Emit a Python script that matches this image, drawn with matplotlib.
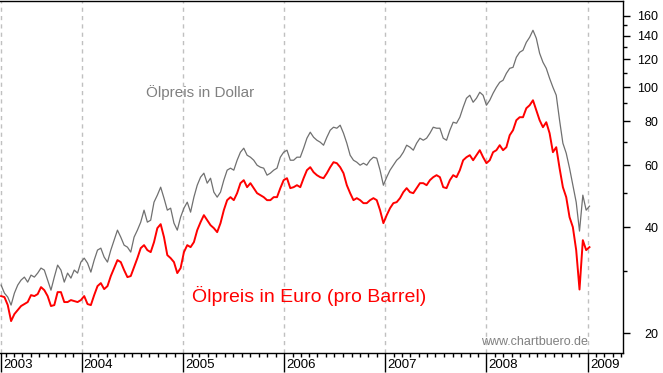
import matplotlib
matplotlib.use('Agg')
import matplotlib.pyplot as plt
import matplotlib.dates as mdates
import matplotlib.ticker as mticker
from matplotlib.transforms import ScaledTranslation
import pandas as pd

plt.rcParams['font.family'] = ['Liberation Sans', 'DejaVu Sans']

# ---------------- data ----------------
start_date = '2003-03-16'
step = '12D'

usd = [
    27.38, 25.98, 25.31, 24.02, 25.98, 27.38, 28.29, 28.85, 27.92, 29.23,
    28.85, 29.62, 30.61, 30.21, 28.29, 26.49, 28.85, 31.21, 30.21, 27.92,
    29.62, 28.66, 30.21, 29.62, 31.83, 32.67, 31.62, 29.81, 32.25, 34.43,
    34.88, 32.89, 31.83, 34.43, 36.75, 39.24, 37.48, 35.57, 35.11, 33.98,
    37.48, 39.24, 41.35, 44.73, 41.35, 41.89, 47.14, 49.35, 52.00, 48.39,
    44.73, 45.32, 41.08, 39.24, 42.73, 45.32, 47.14, 44.15, 48.71, 52.68,
    55.52, 56.99, 53.38, 55.15, 50.33, 48.71,
    50.33, 54.44, 58.12, 58.89, 58.12, 62.04, 65.39, 67.12, 64.11, 63.28,
    62.04, 60.05, 59.27, 58.89, 56.25, 56.99, 58.12, 58.89, 63.28, 65.39,
    66.25, 62.04, 62.04, 63.28, 63.28, 67.12, 71.66, 74.53, 72.12, 70.72,
    69.81, 68.45, 72.12, 75.51, 77.01, 76.50, 78.02, 74.04, 69.35, 64.11,
    62.04, 61.24, 60.05, 60.84, 60.05, 62.04, 63.28, 62.87, 58.12, 52.68,
    55.52, 58.12, 60.05, 62.04, 63.28, 65.39, 68.45, 67.56, 66.25, 69.35,
    71.66, 70.72, 71.66, 74.04, 77.01, 76.50,
    76.50, 71.66, 70.72, 75.51, 79.57, 79.05, 82.22, 87.77, 93.10, 94.95,
    90.69, 93.10, 96.83, 94.95, 88.93, 91.88, 96.20, 100.05, 103.37, 104.73,
    109.60, 113.25, 113.98, 121.77, 125.82, 127.48, 134.28, 138.82, 145.32, 137.91,
    125.00, 117.87, 113.25, 106.07, 100.05, 94.95, 80.62, 69.35, 64.96, 58.89,
    52.68, 47.14, 39.00, 49.35, 44.73, 45.92,
]

eur = [
    25.48, 25.31, 24.02, 21.63, 22.65, 23.25, 23.87, 24.18, 24.50, 25.64,
    25.48, 25.81, 27.02, 26.49, 25.48, 23.87, 24.02, 26.15, 26.15, 24.50,
    24.50, 24.82, 24.66, 24.50, 24.82, 25.48, 24.18, 24.02, 25.64, 27.20,
    27.74, 26.67, 27.20, 29.05, 30.61, 32.25, 31.83, 30.21, 28.85, 29.05,
    30.80, 32.67, 34.88, 35.57, 34.43, 33.98, 36.28, 39.76, 40.81, 37.48,
    33.32, 32.67, 31.83, 29.62, 30.61, 33.98, 35.57, 35.11, 36.28, 39.24,
    41.35, 43.29, 41.89, 40.54, 39.76, 38.73,
    41.08, 44.73, 47.76, 48.71, 47.76, 50.00, 53.38, 54.44, 52.00, 53.38,
    51.67, 50.00, 49.35, 48.71, 47.76, 47.76, 48.71, 48.71, 51.67, 54.44,
    55.15, 51.67, 52.00, 52.68, 52.00, 55.15, 58.12, 59.27, 57.36, 56.25,
    55.52, 55.15, 56.99, 59.27, 61.24, 60.84, 59.27, 56.99, 52.68, 50.00,
    47.76, 48.39, 47.76, 46.83, 46.83, 47.76, 48.39, 47.76, 44.73, 41.08,
    43.29, 45.32, 46.83, 47.14, 48.39, 50.33, 51.67, 50.33, 50.00, 51.67,
    53.38, 53.38, 52.68, 54.44, 55.52, 56.25,
    55.52, 52.00, 51.67, 54.44, 56.25, 55.52, 58.12, 62.04, 63.28, 64.11,
    62.04, 64.11, 66.25, 63.28, 60.84, 62.04, 65.39, 66.25, 68.45, 66.25,
    67.56, 73.07, 75.51, 80.62, 82.22, 82.22, 87.20, 88.93, 91.88, 86.07,
    80.62, 77.01, 79.57, 74.04, 65.39, 67.56, 58.89, 52.00, 48.71, 42.73,
    40.02, 34.43, 26.60, 36.75, 34.43, 35.11,
]

y_major = [20, 40, 60, 80, 100, 120, 140, 160]
y_minor = [30, 50, 70, 90, 110, 130, 150]
year_labels = ['2003', '2004', '2005', '2006', '2007', '2008', '2009']
year_starts = ['2004-01-01', '2005-01-01', '2006-01-01', '2007-01-01',
               '2008-01-01', '2009-01-01']
x_range = ('2003-03-12', '2009-05-08')
y_range = (17.55, 176.6)

label_usd = 'Ölpreis in Dollar'
label_eur = 'Ölpreis in Euro (pro Barrel)'
watermark = 'www.chartbuero.de'

# ---------------- figure ----------------
dates = pd.date_range(start_date, periods=len(usd), freq=step)

W, H = 663, 373
fig = plt.figure(figsize=(W / 100, H / 100), dpi=100)
fig.patch.set_facecolor('white')
ax = fig.add_axes([0, 20 / H, 623 / W, 352.5 / H])

ax.plot(dates, usd, color='#707070', lw=0.9, zorder=3)
ax.plot(dates, eur, color='#ff0000', lw=1.4, zorder=4)

ax.set_yscale('log')
ax.set_ylim(*y_range)
ax.set_xlim(pd.Timestamp(x_range[0]), pd.Timestamp(x_range[1]))

# x ticks
xt = [dates[0]] + [pd.Timestamp(d) for d in year_starts]
xt_num = [mdates.date2num(t) for t in xt]
ax.xaxis.set_major_locator(mticker.FixedLocator(xt_num))
ax.xaxis.set_major_formatter(mticker.NullFormatter())
ax.xaxis.set_minor_locator(mdates.MonthLocator())
ax.tick_params(axis='x', which='major', direction='out', length=13.7,
               width=1, color='black')
ax.tick_params(axis='x', which='minor', direction='out', length=3.0,
               width=1, color='black')
off = ScaledTranslation(2 / 100, -6.5 / 100, fig.dpi_scale_trans)
for t, lab in zip(xt_num, year_labels):
    ax.text(t, 0, lab, transform=ax.get_xaxis_transform() + off,
            ha='left', va='top', fontsize=9.5, color='black', clip_on=False)

# y ticks on the right
ax.yaxis.tick_right()
ax.yaxis.set_major_locator(mticker.FixedLocator(y_major))
ax.yaxis.set_major_formatter(mticker.FixedFormatter([str(v) for v in y_major]))
ax.yaxis.set_minor_locator(mticker.FixedLocator(y_minor))
ax.yaxis.set_minor_formatter(mticker.NullFormatter())
ax.tick_params(axis='y', which='major', direction='out', length=5.0, width=1,
               pad=20.5, labelsize=9, colors='black')
ax.tick_params(axis='y', which='minor', direction='out', length=3.0, width=1)
plt.setp(ax.get_yticklabels(), ha='right')

# grid
ax.grid(axis='x', which='major', color='#c0c0c0', lw=1,
        linestyle=(0, (3, 3)), zorder=1)
ax.grid(axis='y', which='both', visible=False)

for s in ['top', 'right', 'bottom']:
    ax.spines[s].set_color('black')
    ax.spines[s].set_linewidth(1)
ax.spines['left'].set_visible(False)

# texts
ax.text(146 / 623, (353 - 97) / 353, label_usd, transform=ax.transAxes,
        ha='left', va='baseline', fontsize=11, color='#808080')
ax.text(192 / 623, (353 - 302) / 353, label_eur, transform=ax.transAxes,
        ha='left', va='baseline', fontsize=14, color='#ff0000')
ax.text(481 / 623, (353 - 345) / 353, watermark, transform=ax.transAxes,
        ha='left', va='baseline', fontsize=9, color='#808080')

fig.savefig('out.png', dpi=100, facecolor='white')
